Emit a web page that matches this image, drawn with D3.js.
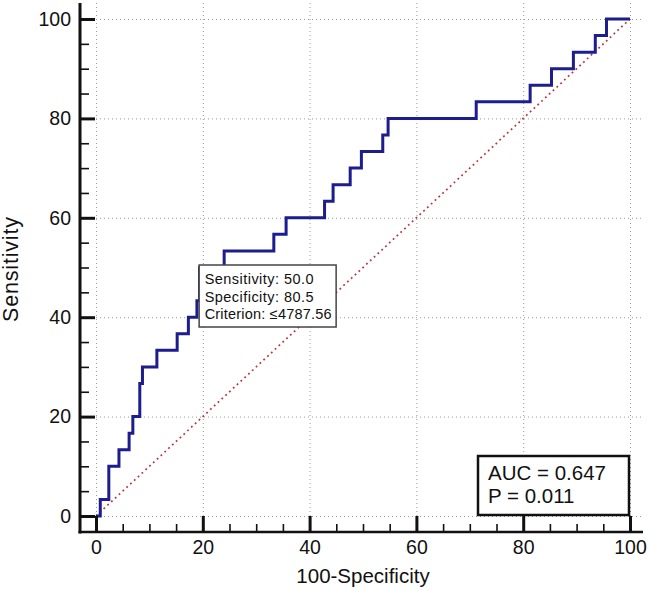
<!DOCTYPE html>
<html>
<head>
<meta charset="utf-8">
<script src="https://cdn.jsdelivr.net/npm/d3@7"></script>
<style>
  html, body { margin: 0; padding: 0; background: #fff; }
  svg { display: block; }
  text { font-family: "Liberation Sans", Arial, sans-serif; fill: #111; }
</style>
</head>
<body>
<script>
// ---- data ----
const fpr = [0, 0.8, 2.4, 4.3, 6.2, 6.9, 8.2, 8.7, 11.4, 15.2, 17.3, 18.9, 19.4, 24.0, 33.3, 35.6, 42.8, 44.4, 47.6, 49.7, 53.7, 54.7, 71.2, 81.3, 85.3, 89.4, 93.5, 95.6, 100];
const tpr = [0, 3.33, 10, 13.33, 16.67, 20, 26.67, 30, 33.33, 36.67, 40, 43.33, 50, 53.33, 56.67, 60, 63.33, 66.67, 70, 73.33, 76.67, 80, 83.33, 86.67, 90, 93.33, 96.67, 100, 100];
const majorTicks = [0, 20, 40, 60, 80, 100];
const minorTicks = d3.range(0, 101, 5);
const criterion = { fpr: 19.5, tpr: 50.0 };
const tooltipLines = ["Sensitivity: 50.0", "Specificity: 80.5", "Criterion: \u22644787.56"];
const statLines = ["AUC = 0.647", "P = 0.011"];
const xTitle = "100-Specificity";
const yTitle = "Sensitivity";

// ---- layout ----
const W = 649, H = 591;
const svg = d3.select("body").append("svg").attr("width", W).attr("height", H);

const x = d3.scaleLinear().domain([0, 100]).range([96, 630]);
const y = d3.scaleLinear().domain([0, 100]).range([516, 19]);
const frameRight = 643, frameTop = 3;
const yAxisX = 80, xAxisY = 532;

// grid
const grid = svg.append("g").attr("stroke", "#9a9a9a").attr("stroke-width", 1).attr("stroke-dasharray", "1,3");
grid.selectAll("line.h").data(majorTicks).join("line")
  .attr("x1", x(0)).attr("x2", frameRight)
  .attr("y1", d => y(d) + 0.5).attr("y2", d => y(d) + 0.5);
grid.selectAll("line.v").data(majorTicks).join("line")
  .attr("y1", y(0)).attr("y2", frameTop)
  .attr("x1", d => x(d) + 0.5).attr("x2", d => x(d) + 0.5);

// diagonal reference
svg.append("line")
  .attr("x1", x(0)).attr("y1", y(0)).attr("x2", x(100)).attr("y2", y(100))
  .attr("stroke", "#b8343a").attr("stroke-width", 1.7).attr("stroke-dasharray", "1.8,3.4");

// ROC curve
const pts = fpr.map((d, i) => [d, tpr[i]]);
const line = d3.line().x(d => x(d[0])).y(d => y(d[1])).curve(d3.curveStepAfter);
svg.append("path").datum(pts).attr("d", line)
  .attr("fill", "none").attr("stroke", "#1d1d8e").attr("stroke-width", 3)
  .attr("stroke-linejoin", "miter");

// axes
const yMinor = d3.axisLeft(y).tickValues(minorTicks.filter(v => !majorTicks.includes(v)))
  .tickSizeInner(-9).tickSizeOuter(0).tickFormat("");
const yMajor = d3.axisLeft(y).tickValues(majorTicks).tickSizeInner(-15).tickSizeOuter(0).tickPadding(9);
const xMinor = d3.axisBottom(x).tickValues(minorTicks.filter(v => !majorTicks.includes(v)))
  .tickSizeInner(-8).tickSizeOuter(0).tickFormat("");
const xMajor = d3.axisBottom(x).tickValues(majorTicks).tickSizeInner(-16).tickSizeOuter(0).tickPadding(8);

function styleAxis(g, w) {
  g.select(".domain").remove();
  g.selectAll(".tick line").attr("stroke", "#111").attr("stroke-width", w);
  g.selectAll(".tick text").style("font-family", "'Liberation Sans', Arial, sans-serif")
    .style("font-size", "19.5px").attr("fill", "#111");
}
svg.append("g").attr("transform", `translate(${yAxisX},0)`).call(yMinor).call(g => styleAxis(g, 1.6));
svg.append("g").attr("transform", `translate(${yAxisX},0)`).call(yMajor).call(g => styleAxis(g, 3));
svg.append("g").attr("transform", `translate(0,${xAxisY})`).call(xMinor).call(g => styleAxis(g, 1.6));
svg.append("g").attr("transform", `translate(0,${xAxisY})`).call(xMajor).call(g => styleAxis(g, 3));

svg.append("line").attr("x1", yAxisX).attr("x2", yAxisX).attr("y1", frameTop).attr("y2", xAxisY + 1.5)
  .attr("stroke", "#111").attr("stroke-width", 3);
svg.append("line").attr("x1", yAxisX - 1.5).attr("x2", frameRight).attr("y1", xAxisY).attr("y2", xAxisY)
  .attr("stroke", "#111").attr("stroke-width", 2.5);

// axis titles
svg.append("text").attr("x", (x(0) + x(100)) / 2).attr("y", 583)
  .attr("text-anchor", "middle").style("font-size", "20.5px").text(xTitle);
svg.append("text").attr("transform", `translate(18,${269.5}) rotate(-90)`)
  .attr("text-anchor", "middle").style("font-size", "21.5px")
  .attr("textLength", 105).attr("lengthAdjust", "spacing").text(yTitle);

// criterion tooltip box
const bx = x(criterion.fpr) - 1, by = y(criterion.tpr) - 2.5;
svg.append("rect").attr("x", bx).attr("y", by).attr("width", 137).attr("height", 62)
  .attr("fill", "#fff").attr("stroke", "#444").attr("stroke-width", 1.5);
const tlLens = [109, 109, 127];
svg.selectAll("text.tt").data(tooltipLines).join("text")
  .attr("class", "tt")
  .attr("x", bx + 5.5).attr("y", (d, i) => by + 19 + i * 17.7)
  .style("font-size", "14.5px").attr("fill", "#222")
  .attr("textLength", (d, i) => tlLens[i]).attr("lengthAdjust", "spacing")
  .text(d => d);

// AUC box
svg.append("rect").attr("x", 478).attr("y", 456).attr("width", 151).attr("height", 59)
  .attr("fill", "#fff").attr("stroke", "#111").attr("stroke-width", 2.5);
svg.selectAll("text.st").data(statLines).join("text")
  .attr("class", "st")
  .attr("x", 488).attr("y", (d, i) => 479.5 + i * 23)
  .style("font-size", "20.5px").text(d => d);
</script>
</body>
</html>
